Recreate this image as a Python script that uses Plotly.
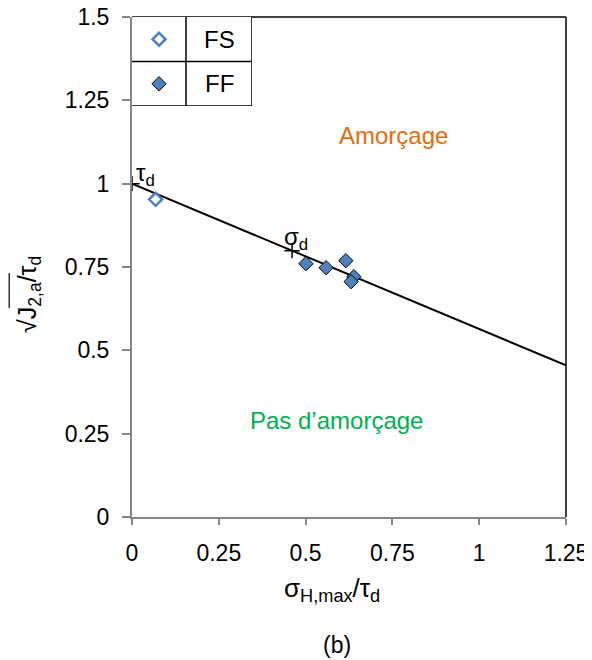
import plotly.graph_objects as go

# données
fs_x = [0.068]
fs_y = [0.953]
ff_x = [0.501, 0.559, 0.616, 0.639, 0.631]
ff_y = [0.760, 0.748, 0.769, 0.721, 0.706]

# droite du critère
crit_x = [0, 1.25]
crit_y = [1.0, 0.455]

# points tau_d et sigma_d
pt_x = [0, 0.461]
pt_y = [1.0, 0.799]
pt_labels = ["τ<sub>d</sub>", "σ<sub>d</sub>"]

xticks = [0, 0.25, 0.5, 0.75, 1, 1.25]
yticks = [0, 0.25, 0.5, 0.75, 1, 1.25, 1.5]

BLUE = "#4f81bd"
GREY = "#868686"
FONT = "Liberation Sans, Arial, sans-serif"

fig = go.Figure()

fig.add_trace(go.Scatter(x=crit_x, y=crit_y, mode="lines",
                         line=dict(color="black", width=2), showlegend=False))
fig.add_trace(go.Scatter(x=pt_x, y=pt_y, mode="markers",
                         marker=dict(symbol="cross-thin", size=11, line=dict(color="black", width=1.5)),
                         showlegend=False))
fig.add_trace(go.Scatter(x=fs_x, y=fs_y, mode="markers", name="FS",
                         marker=dict(symbol="diamond-open", size=10, color=BLUE, line=dict(color=BLUE, width=2.5)),
                         showlegend=False))
fig.add_trace(go.Scatter(x=ff_x, y=ff_y, mode="markers", name="FF",
                         marker=dict(symbol="diamond", size=11, color=BLUE, line=dict(color="black", width=1)),
                         showlegend=False))

# légende façon tableau, sur un repère à part (0..2 x 0..2)
LEG_DIV = 54 / 120 * 2
LEG_SYM = 27 / 120 * 2
LEG_TXT = 87 / 120 * 2
fig.add_trace(go.Scatter(x=[LEG_SYM], y=[0.5], mode="markers", xaxis="x2", yaxis="y2",
                         marker=dict(symbol="diamond-open", size=10, color=BLUE, line=dict(color=BLUE, width=2.5)),
                         showlegend=False, hoverinfo="skip"))
fig.add_trace(go.Scatter(x=[LEG_SYM], y=[1.5], mode="markers", xaxis="x2", yaxis="y2",
                         marker=dict(symbol="diamond", size=11, color=BLUE, line=dict(color="black", width=1)),
                         showlegend=False, hoverinfo="skip"))
fig.add_annotation(x=LEG_TXT, y=0.5, xref="x2", yref="y2", text="FS", showarrow=False,
                   font=dict(size=24, color="black", family=FONT))
fig.add_annotation(x=LEG_TXT, y=1.5, xref="x2", yref="y2", text="FF", showarrow=False,
                   font=dict(size=24, color="black", family=FONT))

# étiquettes tau_d / sigma_d
fig.add_annotation(x=0.040, y=1.029, text=pt_labels[0], showarrow=False,
                   font=dict(size=24, color="black", family=FONT))
fig.add_annotation(x=0.472, y=0.837, text=pt_labels[1], showarrow=False,
                   font=dict(size=24, color="black", family=FONT))

fig.add_annotation(x=0.752, y=1.146, text="Amorçage", showarrow=False,
                   font=dict(size=24, color="#e46c0a", family=FONT))
fig.add_annotation(x=0.588, y=0.291, text="Pas d’amorçage", showarrow=False,
                   font=dict(size=24, color="#00b050", family=FONT))

# titres des axes
fig.add_annotation(x=-0.279, y=0.446, xref="paper", yref="paper", textangle=-90,
                   text="√J<sub>2,a</sub>/τ<sub>d</sub>", showarrow=False,
                   font=dict(size=25, color="black", family=FONT))
fig.add_annotation(x=0.461, y=-0.182, xref="paper", yref="paper",
                   text="σ<sub>H,max</sub>/τ<sub>d</sub>", showarrow=False,
                   font=dict(size=26, color="black", family=FONT))
fig.add_annotation(x=0.472, y=-0.286, xref="paper", yref="paper", text="(b)", showarrow=False,
                   font=dict(size=23, color="black", family=FONT))

shapes = [
    # cadre haut et droit de la zone de tracé
    dict(type="line", xref="paper", yref="paper", x0=0, y0=1, x1=1, y1=1,
         line=dict(color="black", width=1.5), layer="below"),
    dict(type="line", xref="paper", yref="paper", x0=1, y0=0, x1=1, y1=1,
         line=dict(color="black", width=1.5), layer="below"),
    # tableau de légende
    dict(type="line", xref="x2", yref="y2", x0=2, y0=0, x1=2, y1=2, line=dict(color="black", width=1.5)),
    dict(type="line", xref="x2", yref="y2", x0=0, y0=2, x1=2, y1=2, line=dict(color="black", width=1.5)),
    dict(type="line", xref="x2", yref="y2", x0=0, y0=1, x1=2, y1=1, line=dict(color="black", width=1.5)),
    dict(type="line", xref="x2", yref="y2", x0=LEG_DIV, y0=0, x1=LEG_DIV, y1=2,
         line=dict(color="black", width=1.5)),
    # barre de la racine
    dict(type="line", xref="paper", yref="paper", x0=-0.283, x1=-0.283, y0=0.418, y1=0.488,
         line=dict(color="black", width=1.2)),
]

fig.update_layout(
    width=584, height=652,
    margin=dict(l=124, r=26, t=9, b=143),
    paper_bgcolor="white", plot_bgcolor="white",
    font=dict(family=FONT, size=23, color="black"),
    showlegend=False,
    shapes=shapes,
    xaxis=dict(range=[0, 1.25], tickvals=xticks, ticktext=[f"{v:g}" for v in xticks],
               showgrid=False, zeroline=False, showline=True, linecolor=GREY, linewidth=2,
               ticks="outside", ticklen=6, tickcolor=GREY, tickwidth=1.5, ticklabelstandoff=8,
               tickfont=dict(size=23), automargin=False, ticklabeloverflow="allow",
               layer="above traces"),
    yaxis=dict(range=[0, 1.5], tickvals=yticks, ticktext=[f"{v:g}" for v in yticks],
               showgrid=False, zeroline=False, showline=True, linecolor=GREY, linewidth=2,
               ticks="outside", ticklen=8, tickcolor=GREY, tickwidth=1.5, ticklabelstandoff=8,
               tickfont=dict(size=23), automargin=False, ticklabeloverflow="allow"),
    xaxis2=dict(domain=[0, 120 / 434], range=[0, 2], anchor="y2",
                visible=False, fixedrange=True),
    yaxis2=dict(domain=[1 - 89 / 500, 1], range=[2, 0], anchor="x2",
                visible=False, fixedrange=True),
)

fig.write_html("out.html")
